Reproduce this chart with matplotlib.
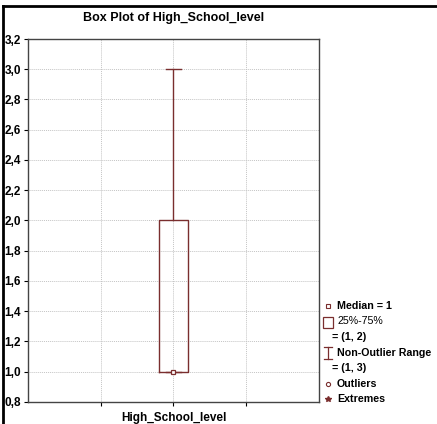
import numpy as np
import matplotlib as mpl
import matplotlib.pyplot as plt
from matplotlib.lines import Line2D
from matplotlib.patches import Rectangle
from matplotlib.ticker import FuncFormatter

mpl.rcParams.update({
    "font.family": ["Liberation Sans", "DejaVu Sans"],
    "font.size": 8,
})

# ---- data ----------------------------------------------------------------
variable = "High_School_level"
q1 = 1.0
median = 1.0
q3 = 2.0
whisker_lo = 1.0
whisker_hi = 3.0
legend_lines = ["Median = 1", "25%-75%", "= (1, 2)", "Non-Outlier Range",
                "= (1, 3)", "Outliers", "Extremes"]

BOX = "#7A2E2E"
GRID = "#C4C4C4"

fig = plt.figure(figsize=(4.37, 4.24), dpi=100)
ax = fig.add_axes([0.064, 0.052, 0.666, 0.856])

stats = [dict(med=median, q1=q1, q3=q3, whislo=whisker_lo, whishi=whisker_hi,
              fliers=[], label=variable)]
ax.bxp(stats, positions=[2], widths=0.4, showfliers=False,
       boxprops=dict(color=BOX, lw=1.0),
       whiskerprops=dict(color=BOX, lw=1.0),
       capprops=dict(color=BOX, lw=1.0),
       medianprops=dict(lw=0), capwidths=0.2, zorder=3)
ax.plot([2], [median], ls="none", marker="s", ms=3.5, mfc="white",
        mec=BOX, mew=0.9, zorder=4)

ax.set_xlim(0, 4)
ax.set_ylim(0.8, 3.2)
ax.set_yticks(np.arange(0.8, 3.21, 0.2))
ax.yaxis.set_major_formatter(FuncFormatter(lambda v, p: f"{v:.1f}".replace(".", ",")))
ax.set_xticks([1, 2, 3])
ax.set_xticklabels(["", variable, ""], fontsize=8.5, fontweight="bold")
ax.tick_params(axis="x", length=3, pad=4)
ax.tick_params(axis="y", length=3, pad=2, labelsize=8.5)
for lbl in ax.get_yticklabels():
    lbl.set_fontweight("bold")
ax.grid(True, color=GRID, ls=(0, (1, 1)), lw=0.7, zorder=0)
for s in ax.spines.values():
    s.set_color("#444444")
    s.set_linewidth(1.0)

fig.text(0.397, 0.957, "Box Plot of " + variable, ha="center", va="center",
         fontsize=9, fontweight="bold")

# ---- legend (Statistica style, drawn manually) -----------------------------
ys = [306, 321, 337, 353, 368, 384, 399]
H = 424.0
for i, (txt, y) in enumerate(zip(legend_lines, ys)):
    x = 337 if i not in (2, 4) else 332
    fig.text(x / 437, 1 - y / H, txt, ha="left", va="center",
             fontsize=7.7, fontweight="bold" if i != 1 else "normal")
# legend icons
fig.add_artist(Line2D([328 / 437], [1 - 306 / H], marker="s", ms=3, mfc="white",
                      mec=BOX, mew=0.8, ls="none"))
fig.add_artist(Rectangle((323 / 437, 1 - 328 / H), 10 / 437, 11 / H,
                         fill=False, ec=BOX, lw=0.9))
fig.add_artist(Line2D([328 / 437, 328 / 437], [1 - 347 / H, 1 - 359 / H], color=BOX, lw=0.9))
fig.add_artist(Line2D([324 / 437, 332 / 437], [1 - 347 / H, 1 - 347 / H], color=BOX, lw=0.9))
fig.add_artist(Line2D([324 / 437, 332 / 437], [1 - 359 / H, 1 - 359 / H], color=BOX, lw=0.9))
fig.add_artist(Line2D([328 / 437], [1 - 384 / H], marker="o", ms=3, mfc="white",
                      mec=BOX, mew=0.8, ls="none"))
fig.add_artist(Line2D([328 / 437], [1 - 399 / H], marker="*", ms=4, color=BOX, ls="none"))

# figure frame (left and top only, as in the reference)
fig.add_artist(Line2D([0.007, 0.007], [0, 0.985], color="black", lw=2.0))
fig.add_artist(Line2D([0.007, 1.0], [0.985, 0.985], color="black", lw=2.0))

fig.savefig("out.png", dpi=100)
